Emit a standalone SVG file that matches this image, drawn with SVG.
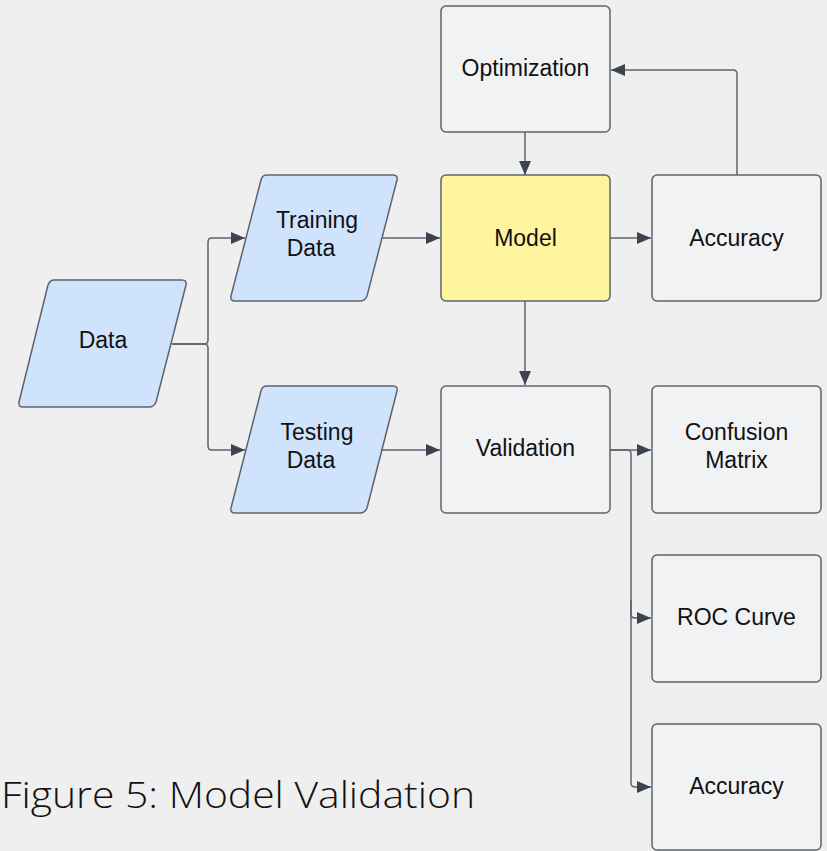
<svg xmlns="http://www.w3.org/2000/svg" width="827" height="851" viewBox="0 0 827 851">
  <defs>
    <marker id="arrow" viewBox="0 0 14 12" refX="14" refY="6" markerWidth="14" markerHeight="12" markerUnits="userSpaceOnUse" orient="auto">
      <path d="M0,0 L14,6 L0,12 Z" fill="#3c4350"/>
    </marker>
    <style>
      .box { fill: #f1f2f4; stroke: #5f636b; stroke-width: 1.5; }
      .model { fill: #fff59f; stroke: #5f636b; stroke-width: 1.5; }
      .io { fill: #cfe3fc; stroke: #5f636b; stroke-width: 1.5; stroke-linejoin: round; }
      .lbl { font-family: "Liberation Sans", Arial, sans-serif; font-size: 23px; fill: #111111; text-anchor: middle; }
      .conn { fill: none; stroke: #5f636b; stroke-width: 1.5; marker-end: url(#arrow); }
      .cap { font-family: "Open Sans", "Liberation Sans", sans-serif; font-weight: 300; font-size: 36px; fill: #111111; }
    </style>
  </defs>

  <rect width="827" height="851" fill="#efefef"/>

  <!-- connectors -->
  <g id="connectors">
    <path class="conn" d="M172,344 H204 Q208,344 208,340 V242 Q208,238 212,238 H245"/>
    <path class="conn" d="M172,344 H204 Q208,344 208,348 V446 Q208,450 212,450 H245"/>
    <path class="conn" d="M382,238 H440"/>
    <path class="conn" d="M382,450 H440"/>
    <path class="conn" d="M525,132 V175"/>
    <path class="conn" d="M525,301 V385"/>
    <path class="conn" d="M610,238 H651"/>
    <path class="conn" d="M737,175 V74 Q737,70 733,70 H611"/>
    <path class="conn" d="M610,450 H651"/>
    <path class="conn" d="M610,450 H627 Q631,450 631,454 V614 Q631,618 635,618 H651"/>
    <path class="conn" d="M631,600 V783 Q631,787 635,787 H651"/>
  </g>

  <!-- nodes -->
  <g id="data">
    <path class="io" d="M54,280 H182 Q187,280 186,285 L156,402 Q154,407 149,407 H23 Q18,407 19,402 L48,285 Q50,280 54,280 Z"/>
    <text class="lbl" x="103" y="348">Data</text>
  </g>
  <g id="training-data">
    <path class="io" d="M267,175 H393 Q398,175 397,180 L367,296 Q365,301 360,301 H235 Q230,301 231,296 L261,180 Q262,175 267,175 Z"/>
    <text class="lbl" x="317" y="228">Training</text>
    <text class="lbl" x="311" y="256">Data</text>
  </g>
  <g id="testing-data">
    <path class="io" d="M267,386 H393 Q398,386 397,391 L367,508 Q365,513 360,513 H235 Q230,513 231,508 L261,391 Q262,386 267,386 Z"/>
    <text class="lbl" x="317" y="440">Testing</text>
    <text class="lbl" x="311" y="468">Data</text>
  </g>
  <g id="optimization">
    <rect class="box" x="441" y="6" width="169" height="126" rx="5"/>
    <text class="lbl" x="525.5" y="76">Optimization</text>
  </g>
  <g id="model">
    <rect class="model" x="441" y="175" width="169" height="126" rx="5"/>
    <text class="lbl" x="525.5" y="246">Model</text>
  </g>
  <g id="accuracy-top">
    <rect class="box" x="652" y="175" width="169" height="126" rx="5"/>
    <text class="lbl" x="736.5" y="246">Accuracy</text>
  </g>
  <g id="validation">
    <rect class="box" x="441" y="386" width="169" height="127" rx="5"/>
    <text class="lbl" x="525.5" y="456">Validation</text>
  </g>
  <g id="confusion-matrix">
    <rect class="box" x="652" y="386" width="169" height="127" rx="5"/>
    <text class="lbl" x="736.5" y="440">Confusion</text>
    <text class="lbl" x="736.5" y="468">Matrix</text>
  </g>
  <g id="roc-curve">
    <rect class="box" x="652" y="555" width="169" height="127" rx="5"/>
    <text class="lbl" x="736.5" y="625">ROC Curve</text>
  </g>
  <g id="accuracy-bottom">
    <rect class="box" x="652" y="724" width="169" height="126" rx="5"/>
    <text class="lbl" x="736.5" y="794">Accuracy</text>
  </g>

  <text class="cap" x="1" y="808" textLength="474" lengthAdjust="spacingAndGlyphs">Figure 5: Model Validation</text>
</svg>
